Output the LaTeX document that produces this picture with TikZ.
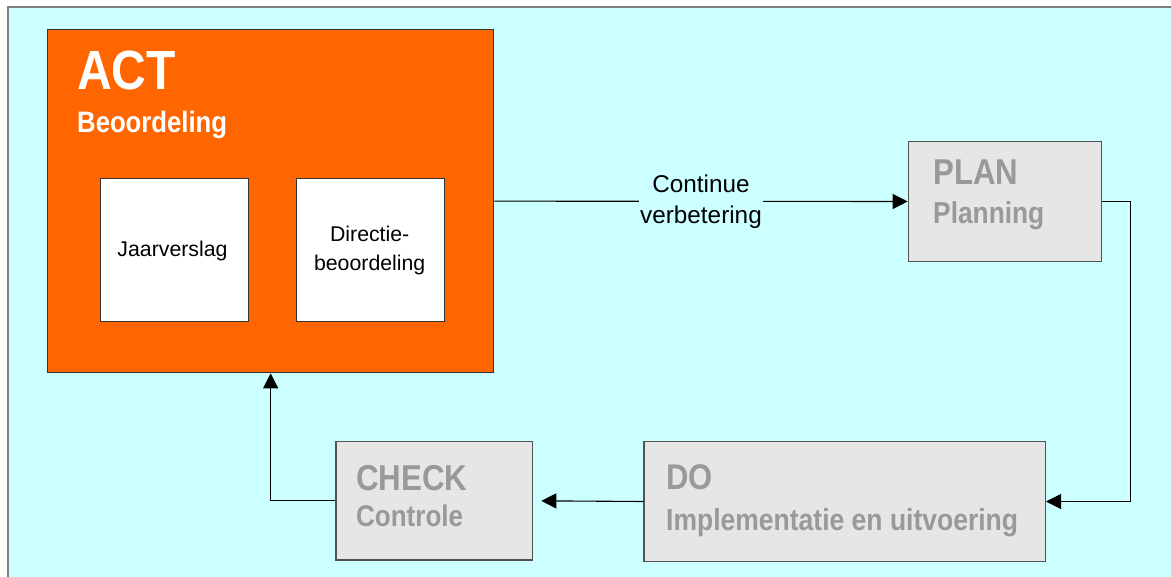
\documentclass[tikz,border=0pt]{standalone}
\usepackage{graphicx}
\usepackage{fontspec}
\setmainfont{Liberation Sans}
\usetikzlibrary{arrows.meta}

\definecolor{bgcyan}{HTML}{CCFFFF}
\definecolor{actorange}{HTML}{FF6600}
\definecolor{phasefill}{HTML}{E6E6E6}
\definecolor{phasetext}{HTML}{999999}
\definecolor{framegray}{HTML}{7F7F7F}
\definecolor{edgegray}{HTML}{333333}

% bold headings are set slightly taller than wide
\newcommand\headtext[2]{\scalebox{1}[1.15]{\fontsize{#1}{#1}\selectfont\bfseries #2}}
\newcommand\plaintext[1]{\fontsize{#1}{#1}\selectfont}

\tikzset{
  panel/.style={draw=edgegray, line width=1.3pt, inner sep=0pt, anchor=north west},
  actbox/.style={panel, fill=actorange},
  docbox/.style={panel, fill=white},
  phasebox/.style={panel, fill=phasefill, draw=edgegray!85!white},
  words/.style={inner sep=0pt, anchor=base west},
  conn/.style={draw=black, line width=1.1pt},
  tip/.style={-{Triangle[length=15pt,width=15pt]}},
}

\begin{document}
\begin{tikzpicture}[x=1pt, y=-1pt]
  \useasboundingbox (0,0) rectangle (1171,577);
  \fill[white] (0,0) rectangle (1171,577);
  % cyan canvas with its frame
  \draw[framegray, line width=2pt, fill=bgcyan] (8,7) rectangle (1190,600);

  % ACT block with its two documents
  \node[actbox, minimum width=446pt, minimum height=343pt] (act) at (47,29) {};
  \node[words, text=white] (actT) at (77,90) {\headtext{48}{ACT}};
  \node[words, text=white] (actS) at (77,133) {\headtext{25.7}{Beoordeling}};

  \node[docbox, minimum width=148pt, minimum height=143pt] (jaar) at (99.7,178) {};
  \node[inner sep=0pt, anchor=base] (jaarT) at (172.5,256.7) {\plaintext{21.3}Jaarverslag};

  \node[docbox, minimum width=148pt, minimum height=143pt] (dir) at (296,178) {};
  \node[inner sep=0pt, anchor=base] (dirT) at (369.7,241.7)
    {\fontsize{21.3}{29}\selectfont\begin{tabular}[t]{@{}c@{}}Directie-\\beoordeling\end{tabular}};

  % PLAN, DO, CHECK phases
  \node[phasebox, minimum width=193.3pt, minimum height=119.7pt] (plan) at (907.7,141) {};
  \node[words, text=phasetext] (planT) at (933,185) {\headtext{31.2}{PLAN}};
  \node[words, text=phasetext] (planS) at (933,224) {\headtext{26.3}{Planning}};

  \node[phasebox, minimum width=401.4pt, minimum height=119.7pt] (do) at (643.3,441) {};
  \node[words, text=phasetext] (doT) at (666,489.3) {\headtext{31}{DO}};
  \node[words, text=phasetext] (doS) at (666,530) {\headtext{26.5}{Implementatie en uitvoering}};

  \node[phasebox, minimum width=196.7pt, minimum height=118.3pt] (check) at (335.3,441) {};
  \node[words, text=phasetext] (checkT) at (356,490) {\headtext{31.3}{CHECK}};
  \node[words, text=phasetext] (checkS) at (356,526.7) {\headtext{26}{Controle}};

  % cycle connectors
  \draw[conn, tip] (act.east) -- node[pos=0.5, anchor=base, yshift=8.8pt, fill=bgcyan, inner xsep=1.5pt, inner ysep=0pt]
      {\fontsize{24.3}{31.3}\selectfont\begin{tabular}[t]{@{}c@{}}Continue\\verbetering\end{tabular}} (plan.west);
  \draw[conn, tip] (plan.east) -- ++(28.3,0) |- (do.east);
  \draw[conn, tip, shorten >=8pt] (do.west) -- (check.east);
  \draw[conn, tip] (check.west) -| (act.south);
\end{tikzpicture}
\end{document}
